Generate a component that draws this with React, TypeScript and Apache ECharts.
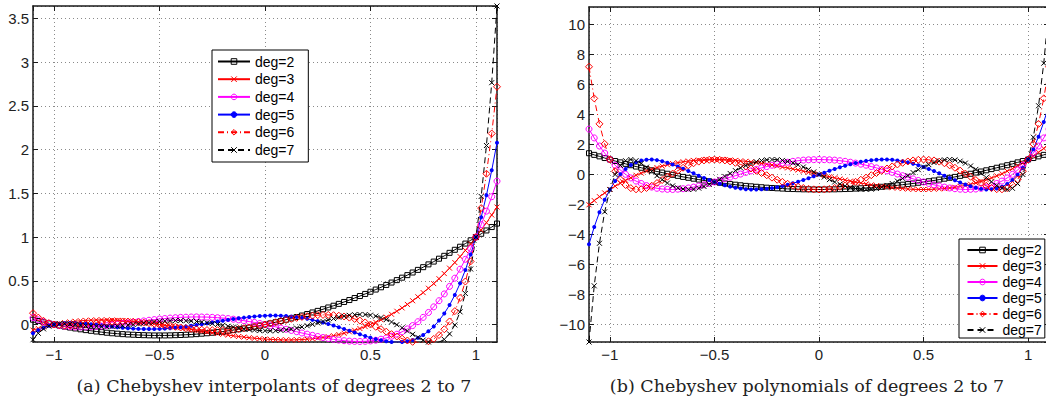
import React, { useEffect, useRef } from 'react';
import * as echarts from 'echarts';

// ---------- data ----------
const xs = [
  -1.1, -1.075, -1.05, -1.025, -1, -0.975, -0.95, -0.925, -0.9, -0.875, -0.85, -0.825, -0.8, -0.775, -0.75,
  -0.725, -0.7, -0.675, -0.65, -0.625, -0.6, -0.575, -0.55, -0.525, -0.5, -0.475, -0.45, -0.425, -0.4, -0.375,
  -0.35, -0.325, -0.3, -0.275, -0.25, -0.225, -0.2, -0.175, -0.15, -0.125, -0.1, -0.075, -0.05, -0.025, 0,
  0.025, 0.05, 0.075, 0.1, 0.125, 0.15, 0.175, 0.2, 0.225, 0.25, 0.275, 0.3, 0.325, 0.35, 0.375, 0.4, 0.425,
  0.45, 0.475, 0.5, 0.525, 0.55, 0.575, 0.6, 0.625, 0.65, 0.675, 0.7, 0.725, 0.75, 0.775, 0.8, 0.825, 0.85,
  0.875, 0.9, 0.925, 0.95, 0.975, 1, 1.025, 1.05, 1.075, 1.1,
];

const degNames = ['deg=2', 'deg=3', 'deg=4', 'deg=5', 'deg=6', 'deg=7'];

// (a) interpolants
const interpDeg2 = [0.055,0.040,0.026,0.013,0,-0.012,-0.024,-0.035,-0.045,-0.055,-0.064,-0.072,-0.080,-0.087,-0.094,-0.100,-0.105,-0.110,-0.114,-0.117,-0.120,-0.122,-0.124,-0.125,-0.125,-0.125,-0.124,-0.122,-0.120,-0.117,-0.114,-0.110,-0.105,-0.100,-0.094,-0.087,-0.080,-0.072,-0.064,-0.055,-0.045,-0.035,-0.024,-0.012,0,0.013,0.026,0.040,0.055,0.070,0.086,0.103,0.120,0.138,0.156,0.175,0.195,0.215,0.236,0.258,0.280,0.303,0.326,0.350,0.375,0.400,0.426,0.453,0.480,0.508,0.536,0.565,0.595,0.625,0.656,0.688,0.720,0.753,0.786,0.820,0.855,0.890,0.926,0.963,1,1.038,1.076,1.115,1.155];
const interpDeg3 = [-0.064,-0.045,-0.028,-0.013,0,0.012,0.022,0.030,0.037,0.043,0.047,0.050,0.052,0.053,0.052,0.051,0.048,0.045,0.040,0.035,0.029,0.023,0.016,0.008,0,-0.009,-0.017,-0.027,-0.036,-0.046,-0.055,-0.065,-0.075,-0.084,-0.094,-0.103,-0.112,-0.121,-0.129,-0.137,-0.144,-0.151,-0.157,-0.162,-0.167,-0.170,-0.173,-0.175,-0.176,-0.176,-0.174,-0.172,-0.168,-0.163,-0.156,-0.148,-0.139,-0.128,-0.115,-0.100,-0.084,-0.066,-0.046,-0.024,0,0.026,0.054,0.085,0.117,0.152,0.190,0.230,0.272,0.317,0.365,0.415,0.468,0.524,0.583,0.645,0.709,0.777,0.848,0.922,1,1.081,1.165,1.253,1.344];
const interpDeg4 = [0.078,0.053,0.032,0.014,0,-0.011,-0.019,-0.025,-0.028,-0.029,-0.028,-0.026,-0.022,-0.018,-0.012,-0.005,0.002,0.010,0.018,0.026,0.034,0.041,0.049,0.056,0.063,0.068,0.074,0.078,0.082,0.084,0.086,0.087,0.086,0.085,0.082,0.078,0.074,0.068,0.061,0.053,0.044,0.034,0.024,0.012,0,-0.013,-0.026,-0.040,-0.054,-0.068,-0.082,-0.097,-0.110,-0.124,-0.137,-0.149,-0.160,-0.170,-0.178,-0.185,-0.190,-0.193,-0.194,-0.192,-0.188,-0.180,-0.168,-0.153,-0.134,-0.111,-0.083,-0.050,-0.012,0.032,0.082,0.138,0.202,0.272,0.350,0.436,0.530,0.633,0.746,0.868,1,1.143,1.297,1.462,1.640];
const interpDeg5 = [-0.099,-0.064,-0.036,-0.015,0,0.010,0.016,0.018,0.018,0.015,0.010,0.004,-0.003,-0.010,-0.017,-0.024,-0.031,-0.037,-0.042,-0.047,-0.050,-0.052,-0.052,-0.052,-0.050,-0.047,-0.043,-0.037,-0.031,-0.023,-0.015,-0.006,0.003,0.013,0.023,0.034,0.044,0.053,0.063,0.071,0.079,0.086,0.092,0.097,0.100,0.102,0.102,0.100,0.097,0.092,0.085,0.076,0.065,0.053,0.039,0.023,0.006,-0.012,-0.031,-0.051,-0.071,-0.092,-0.112,-0.132,-0.150,-0.167,-0.181,-0.192,-0.199,-0.202,-0.200,-0.192,-0.177,-0.153,-0.120,-0.077,-0.023,0.045,0.126,0.223,0.338,0.471,0.624,0.800,1,1.226,1.480,1.764,2.080];
const interpDeg6 = [0.130,0.079,0.042,0.016,0,-0.009,-0.013,-0.012,-0.008,-0.002,0.004,0.012,0.018,0.024,0.029,0.033,0.035,0.035,0.034,0.032,0.027,0.022,0.016,0.008,0,-0.008,-0.017,-0.026,-0.034,-0.042,-0.049,-0.054,-0.059,-0.063,-0.064,-0.065,-0.064,-0.061,-0.056,-0.050,-0.043,-0.034,-0.023,-0.012,0,0.013,0.026,0.039,0.052,0.065,0.076,0.087,0.095,0.102,0.107,0.110,0.110,0.107,0.101,0.092,0.079,0.064,0.045,0.024,0,-0.026,-0.053,-0.082,-0.110,-0.137,-0.162,-0.183,-0.198,-0.206,-0.205,-0.192,-0.165,-0.120,-0.054,0.035,0.153,0.304,0.492,0.722,1,1.332,1.725,2.185,2.720];
const interpDeg7 = [-0.174,-0.100,-0.050,-0.018,0,0.008,0.009,0.006,0.000,-0.007,-0.014,-0.019,-0.023,-0.025,-0.025,-0.023,-0.020,-0.014,-0.008,0.000,0.007,0.015,0.023,0.030,0.036,0.040,0.044,0.045,0.045,0.043,0.040,0.035,0.028,0.020,0.011,0.001,-0.009,-0.020,-0.030,-0.040,-0.049,-0.057,-0.064,-0.069,-0.071,-0.072,-0.071,-0.067,-0.060,-0.052,-0.041,-0.028,-0.014,0.002,0.018,0.035,0.052,0.068,0.083,0.095,0.105,0.112,0.115,0.114,0.107,0.096,0.079,0.057,0.029,-0.002,-0.037,-0.074,-0.112,-0.147,-0.178,-0.200,-0.210,-0.202,-0.170,-0.107,-0.005,0.145,0.355,0.635,1,1.465,2.048,2.767,3.644];

// (b) polynomials
const chebDeg2 = [1.42,1.31,1.21,1.10,1,0.90,0.81,0.71,0.62,0.53,0.45,0.36,0.28,0.20,0.13,0.05,-0.02,-0.09,-0.16,-0.22,-0.28,-0.34,-0.40,-0.45,-0.5,-0.55,-0.60,-0.64,-0.68,-0.72,-0.76,-0.79,-0.82,-0.85,-0.88,-0.90,-0.92,-0.94,-0.96,-0.97,-0.98,-0.99,-0.99,-1,-1,-1,-0.99,-0.99,-0.98,-0.97,-0.96,-0.94,-0.92,-0.90,-0.88,-0.85,-0.82,-0.79,-0.76,-0.72,-0.68,-0.64,-0.60,-0.55,-0.5,-0.45,-0.40,-0.34,-0.28,-0.22,-0.16,-0.09,-0.02,0.05,0.13,0.20,0.28,0.36,0.45,0.53,0.62,0.71,0.81,0.90,1,1.10,1.21,1.31,1.42];
const chebDeg3 = [-2.02,-1.74,-1.48,-1.23,-1,-0.78,-0.58,-0.39,-0.22,-0.05,0.09,0.23,0.35,0.46,0.56,0.65,0.73,0.79,0.85,0.90,0.94,0.96,0.98,1.00,1,1.00,0.99,0.97,0.94,0.91,0.88,0.84,0.79,0.74,0.69,0.63,0.57,0.50,0.44,0.37,0.30,0.22,0.15,0.07,0,-0.07,-0.15,-0.22,-0.30,-0.37,-0.44,-0.50,-0.57,-0.63,-0.69,-0.74,-0.79,-0.84,-0.88,-0.91,-0.94,-0.97,-0.99,-1.00,-1,-1.00,-0.98,-0.96,-0.94,-0.90,-0.85,-0.79,-0.73,-0.65,-0.56,-0.46,-0.35,-0.23,-0.09,0.05,0.22,0.39,0.58,0.78,1,1.23,1.48,1.74,2.02];
const chebDeg4 = [3.03,2.44,1.90,1.43,1,0.62,0.30,0.01,-0.23,-0.44,-0.60,-0.74,-0.84,-0.92,-0.97,-0.99,-1.00,-0.98,-0.95,-0.90,-0.84,-0.77,-0.69,-0.60,-0.5,-0.40,-0.29,-0.18,-0.08,0.03,0.14,0.24,0.34,0.44,0.53,0.62,0.69,0.76,0.82,0.88,0.92,0.96,0.98,0.99,1,0.99,0.98,0.96,0.92,0.88,0.82,0.76,0.69,0.62,0.53,0.44,0.34,0.24,0.14,0.03,-0.08,-0.18,-0.29,-0.40,-0.5,-0.60,-0.69,-0.77,-0.84,-0.90,-0.95,-0.98,-1.00,-0.99,-0.97,-0.92,-0.84,-0.74,-0.60,-0.44,-0.23,0.01,0.30,0.62,1,1.43,1.90,2.44,3.03];
const chebDeg5 = [-4.65,-3.50,-2.52,-1.69,-1,-0.44,0.02,0.37,0.63,0.82,0.93,0.99,1.00,0.96,0.89,0.79,0.67,0.53,0.39,0.23,0.08,-0.08,-0.23,-0.37,-0.5,-0.62,-0.72,-0.81,-0.88,-0.94,-0.98,-1.00,-1.00,-0.98,-0.95,-0.91,-0.85,-0.77,-0.68,-0.59,-0.48,-0.37,-0.25,-0.12,0,0.12,0.25,0.37,0.48,0.59,0.68,0.77,0.85,0.91,0.95,0.98,1.00,1.00,0.98,0.94,0.88,0.81,0.72,0.62,0.5,0.37,0.23,0.08,-0.08,-0.23,-0.39,-0.53,-0.67,-0.79,-0.89,-0.96,-1.00,-0.99,-0.93,-0.82,-0.63,-0.37,-0.02,0.44,1,1.69,2.52,3.50,4.65];
const chebDeg6 = [7.19,5.08,3.38,2.04,1,0.22,-0.33,-0.70,-0.91,-0.99,-0.98,-0.90,-0.75,-0.57,-0.37,-0.15,0.06,0.26,0.45,0.61,0.75,0.86,0.94,0.98,1,0.98,0.94,0.87,0.78,0.67,0.54,0.40,0.25,0.10,-0.05,-0.21,-0.35,-0.49,-0.62,-0.73,-0.82,-0.90,-0.96,-0.99,-1,-0.99,-0.96,-0.90,-0.82,-0.73,-0.62,-0.49,-0.35,-0.21,-0.05,0.10,0.25,0.40,0.54,0.67,0.78,0.87,0.94,0.98,1,0.98,0.94,0.86,0.75,0.61,0.45,0.26,0.06,-0.15,-0.37,-0.57,-0.75,-0.90,-0.98,-0.99,-0.91,-0.70,-0.33,0.22,1,2.04,3.38,5.08,7.19];
const chebDeg7 = [-11.18,-7.43,-4.59,-2.49,-1,0.00,0.61,0.92,1.00,0.92,0.74,0.49,0.21,-0.08,-0.34,-0.57,-0.76,-0.89,-0.97,-1.00,-0.98,-0.91,-0.80,-0.66,-0.5,-0.32,-0.13,0.07,0.26,0.44,0.60,0.73,0.85,0.93,0.98,1.00,0.99,0.94,0.87,0.77,0.65,0.50,0.34,0.17,0,-0.17,-0.34,-0.50,-0.65,-0.77,-0.87,-0.94,-0.99,-1.00,-0.98,-0.93,-0.85,-0.73,-0.60,-0.44,-0.26,-0.07,0.13,0.32,0.5,0.66,0.80,0.91,0.98,1.00,0.97,0.89,0.76,0.57,0.34,0.08,-0.21,-0.49,-0.74,-0.92,-1.00,-0.92,-0.61,0.00,1,2.49,4.59,7.43,11.18];

const interpSeries = [interpDeg2, interpDeg3, interpDeg4, interpDeg5, interpDeg6, interpDeg7];
const chebSeries = [chebDeg2, chebDeg3, chebDeg4, chebDeg5, chebDeg6, chebDeg7];

const captionA = '(a) Chebyshev interpolants of degrees 2 to 7';
const captionB = '(b) Chebyshev polynomials of degrees 2 to 7';

// ---------- styles ----------
const X_PATH = 'path://M0,0L10,10M10,0L0,10';
const seriesStyles: any[] = [
  { color: '#000000', symbol: 'rect', size: 5, hollow: true, dash: 'solid' },
  { color: '#ff0000', symbol: X_PATH, size: 5, hollow: true, dash: 'solid' },
  { color: '#ff00ff', symbol: 'circle', size: 6, hollow: true, dash: 'solid' },
  { color: '#0000ff', symbol: 'circle', size: 4, hollow: false, dash: 'solid' },
  { color: '#ff0000', symbol: 'diamond', size: 7, hollow: true, dash: [6, 3, 1, 3] },
  { color: '#000000', symbol: X_PATH, size: 5, hollow: true, dash: [6, 4] },
];

const FONT = 'Liberation Sans';
const AXIS_COLOR = '#1a1a1a';

const fmt = (v: number) => (v < 0 ? '\u2212' + String(Math.abs(v)) : String(v));

function mainX(gridIndex: number) {
  return {
    type: 'value', gridIndex, position: 'bottom', min: -1.1, max: 1.1, splitNumber: 5,
    axisLine: { show: true, onZero: false, lineStyle: { color: AXIS_COLOR, width: 1.5 } },
    axisTick: { show: true, inside: true, length: 5, lineStyle: { color: AXIS_COLOR, width: 1 } },
    axisLabel: { show: true, margin: 5, fontFamily: FONT, fontSize: 15, color: '#222', showMinLabel: false, showMaxLabel: false, formatter: fmt },
    splitLine: { show: true, lineStyle: { color: '#8a8a8a', width: 1, type: [1, 3] } },
  };
}
function topX(gridIndex: number) {
  return {
    type: 'value', gridIndex, position: 'top', min: -1.1, max: 1.1, splitNumber: 5,
    axisLine: { show: true, onZero: false, lineStyle: { color: AXIS_COLOR, width: 1.5 } },
    axisTick: { show: true, inside: true, length: 5, lineStyle: { color: AXIS_COLOR, width: 1 } },
    axisLabel: { show: false }, splitLine: { show: false },
  };
}
function mainY(gridIndex: number, min: number, max: number, splitNumber: number) {
  return {
    type: 'value', gridIndex, position: 'left', min, max, splitNumber,
    axisLine: { show: true, onZero: false, lineStyle: { color: AXIS_COLOR, width: 1.5 } },
    axisTick: { show: true, inside: true, length: 5, lineStyle: { color: AXIS_COLOR, width: 1 } },
    axisLabel: { show: true, margin: 4, fontFamily: FONT, fontSize: 15, color: '#222', showMinLabel: false, showMaxLabel: false, formatter: fmt },
    splitLine: { show: true, lineStyle: { color: '#8a8a8a', width: 1, type: [1, 3] } },
  };
}
function rightY(gridIndex: number, min: number, max: number, splitNumber: number) {
  return {
    type: 'value', gridIndex, position: 'right', min, max, splitNumber,
    axisLine: { show: true, onZero: false, lineStyle: { color: AXIS_COLOR, width: 1.5 } },
    axisTick: { show: true, inside: true, length: 5, lineStyle: { color: AXIS_COLOR, width: 1 } },
    axisLabel: { show: false }, splitLine: { show: false },
  };
}

function makeSeries(name: string, values: number[], st: any, xAxisIndex: number, yAxisIndex: number) {
  return {
    type: 'line', name, xAxisIndex, yAxisIndex,
    data: xs.map((x, i) => [x, values[i]]),
    symbol: st.symbol, symbolSize: st.size, showSymbol: true, showAllSymbol: true,
    lineStyle: { color: st.color, width: 1, type: st.dash },
    itemStyle: st.hollow
      ? { color: 'transparent', borderColor: st.color, borderWidth: 1 }
      : { color: st.color, borderColor: st.color, borderWidth: 0 },
    emphasis: { disabled: true }, silent: true, clip: true,
  };
}

function legendBase() {
  return {
    orient: 'vertical', selectedMode: false, data: degNames,
    backgroundColor: '#ffffff', borderColor: '#000000', borderWidth: 1, borderRadius: 0,
    itemHeight: 7,
    itemStyle: { borderWidth: 1 },
    textStyle: { fontFamily: FONT, fontSize: 14, color: '#000' },
  };
}

export default function App() {
  const ref = useRef<HTMLDivElement>(null);
  useEffect(() => {
    if (!ref.current) return;
    const chart = echarts.init(ref.current, null, { renderer: 'svg' });
    const series: any[] = [];
    degNames.forEach((n, i) => series.push(makeSeries(n, interpSeries[i], seriesStyles[i], 0, 0)));
    degNames.forEach((n, i) => series.push(makeSeries(n, chebSeries[i], seriesStyles[i], 2, 2)));
    const option: any = {
      animation: false,
      backgroundColor: '#ffffff',
      textStyle: { fontFamily: FONT },
      grid: [
        { left: 33, top: 6, width: 464, height: 336, containLabel: false, outerBoundsMode: 'none' },
        { left: 589, top: 7, width: 460, height: 335, containLabel: false, outerBoundsMode: 'none' },
      ],
      xAxis: [mainX(0), topX(0), mainX(1), topX(1)],
      yAxis: [mainY(0, -0.2, 3.644, 8), rightY(0, -0.2, 3.644, 8), mainY(1, -11.18, 11.18, 10), rightY(1, -11.18, 11.18, 10)],
      legend: [
        { ...legendBase(), left: 212, top: 50, itemWidth: 32, itemGap: 1.7, padding: [3.5, 14, 4, 5], textStyle: { fontFamily: FONT, fontSize: 14, color: '#000', lineHeight: 16 } },
        { ...legendBase(), left: 959, top: 239, itemWidth: 30, itemGap: 2, padding: [4, 3, 1, 7.5], textStyle: { fontFamily: FONT, fontSize: 14, color: '#000', lineHeight: 14 } },
      ],
      graphic: [
        { type: 'text', x: 274, y: 386, style: { text: captionA, font: '17.5px "DejaVu Serif"', fill: '#222', align: 'center', verticalAlign: 'middle', textAlign: 'center', textVerticalAlign: 'middle' } },
        { type: 'text', x: 807, y: 386, style: { text: captionB, font: '17.5px "DejaVu Serif"', fill: '#222', align: 'center', verticalAlign: 'middle', textAlign: 'center', textVerticalAlign: 'middle' } },
      ],
      series,
    };
    chart.setOption(option);
    return () => chart.dispose();
  }, []);
  return <div ref={ref} style={{ position: 'absolute', left: 0, top: 0, width: 1046, height: 403 }} />;
}
